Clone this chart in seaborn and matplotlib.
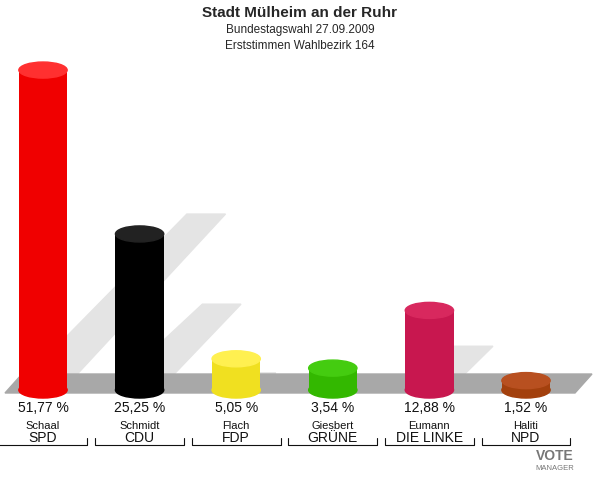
import numpy as np
import pandas as pd
import matplotlib
matplotlib.use("Agg")
import matplotlib.pyplot as plt
import seaborn as sns
from matplotlib.patches import Ellipse, Polygon

names = ["Schaal", "Schmidt", "Flach", "Giesbert", "Eumann", "Haliti"]
parties = ["SPD", "CDU", "FDP", "GRÜNE", "DIE LINKE", "NPD"]
values = [51.77, 25.25, 5.05, 3.54, 12.88, 1.52]
labels = ["51,77 %", "25,25 %", "5,05 %", "3,54 %", "12,88 %", "1,52 %"]
colors = ["#f00000", "#000000", "#f0e020", "#33b800", "#c8174f", "#a3400d"]
tops = ["#ff3030", "#222222", "#fff050", "#44cc10", "#d8285e", "#b85020"]

sns.set_theme(style="white")
plt.rcParams['font.family'] = ['Liberation Sans', 'DejaVu Sans']

fig = plt.figure(figsize=(6, 4.8), dpi=100)
ax = fig.add_axes([0, 0, 1, 1])
pxx = 96.6
pxy = 6.18
xl = (-43 / pxx, (600 - 43) / pxx)
yl = (-90 / pxy, 390 / pxy)
ax.set_xlim(*xl)
ax.set_ylim(*yl)
ax.axis("off")

def px(x):
    return (x - 43) / pxx

def py(y):
    return (390 - y) / pxy

# floor
ax.add_patch(Polygon([(px(5), py(393)), (px(22), py(374)), (px(592), py(374)), (px(575), py(393))],
                     closed=True, color="#a8a8a8", zorder=1))

w = 0.5
eh = 2.6
# shadows
for i, v in enumerate(values):
    h = v * 0.55
    dx = h * pxy * 0.9 / pxx
    ax.add_patch(Polygon([(i - w / 2, 0.8), (i + w / 2, 0.8), (i + w / 2 + dx, h), (i - w / 2 + dx + 0.1, h)],
                         closed=True, color="#e4e4e4", zorder=0.5))

df = pd.DataFrame({"x": range(6), "v": values})
sns.barplot(data=df, x="x", y="v", hue="x", palette=colors, width=w, legend=False,
            native_scale=True, saturation=1, ax=ax, zorder=2, linewidth=0)
ax.set_xlim(*xl)
ax.set_ylim(*yl)
for i, v in enumerate(values):
    ax.add_patch(Ellipse((i, 0), w, eh, color=colors[i], zorder=2))
    ax.add_patch(Ellipse((i, v), w, eh, color=tops[i], zorder=3))
    ax.text(i, py(408), labels[i], ha="center", va="center", fontsize=10, color="#111")
    ax.text(i, py(426), names[i], ha="center", va="center", fontsize=8, color="#111")
    ax.text(i, py(438), parties[i], ha="center", va="center", fontsize=10, color="#111")
    ax.plot([i - 0.46, i - 0.46, i + 0.46, i + 0.46], [py(438), py(445), py(445), py(438)],
            color="#111", lw=0.8)

fig.text(0.5, 1 - 13 / 480, "Stadt Mülheim an der Ruhr", ha="center", va="center", fontsize=11, weight="bold")
fig.text(0.5, 1 - 30 / 480, "Bundestagswahl 27.09.2009", ha="center", va="center", fontsize=8.5)
fig.text(0.5, 1 - 46 / 480, "Erststimmen Wahlbezirk 164", ha="center", va="center", fontsize=8.5)
fig.text(555 / 600, 1 - 456 / 480, "VOTE", ha="center", va="center", fontsize=10, weight="bold", color="#777")
fig.text(555 / 600, 1 - 469 / 480, "MANAGER", ha="center", va="center", fontsize=5.5, color="#777")

fig.savefig("out.png", dpi=100)
